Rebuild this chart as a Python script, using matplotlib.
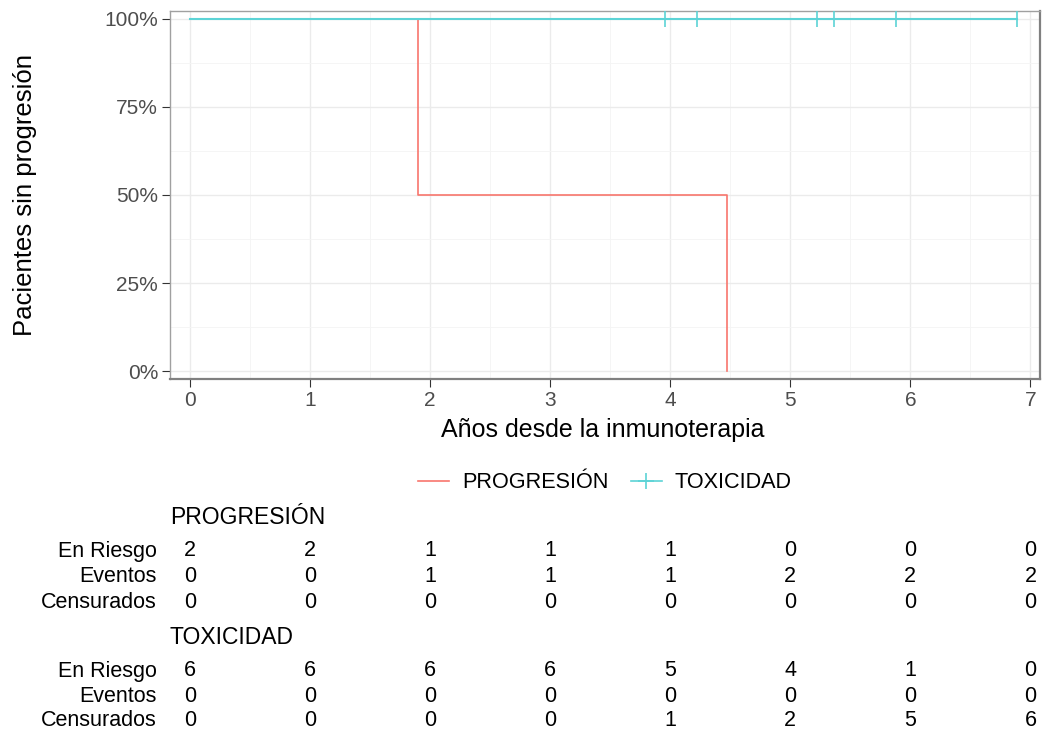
import matplotlib
matplotlib.use("Agg")
import matplotlib.pyplot as plt
import matplotlib.transforms as mtransforms
from matplotlib.lines import Line2D
import numpy as np

plt.rcParams['font.family'] = ['Liberation Sans', 'DejaVu Sans']

# ---- data ----
groups = ["PROGRESIÓN", "TOXICIDAD"]
colors = ["#F8766D", "#00BFC4"]
prog_times = [0, 1.9, 4.47]
prog_surv = [1.0, 0.5, 0.0]
prog_end = 4.47
tox_times = [0]
tox_surv = [1.0]
tox_end = 6.89
tox_censor = [3.96, 4.22, 5.22, 5.36, 5.88, 6.89]

table_times = [0, 1, 2, 3, 4, 5, 6, 7]
row_labels = ["En Riesgo", "Eventos", "Censurados"]
prog_risk = [2, 2, 1, 1, 1, 0, 0, 0]
prog_events = [0, 0, 1, 1, 1, 2, 2, 2]
prog_cens = [0, 0, 0, 0, 0, 0, 0, 0]
tox_risk = [6, 6, 6, 6, 5, 4, 1, 0]
tox_events = [0, 0, 0, 0, 0, 0, 0, 0]
tox_cens = [0, 0, 0, 0, 1, 2, 5, 6]

W, H = 1042, 740
fig = plt.figure(figsize=(W/100, H/100), dpi=100)
ax = fig.add_axes([170/W, 1-379/H, (1040-170)/W, (379-11)/H])

def step_xy(times, surv, end):
    xs, ys = [], []
    for i, (t, s) in enumerate(zip(times, surv)):
        if i > 0:
            xs.append(t); ys.append(surv[i-1])
        xs.append(t); ys.append(s)
    xs.append(end); ys.append(surv[-1])
    return xs, ys

tox_col = "#5CD3D6"
x1, y1 = step_xy(prog_times, prog_surv, prog_end)
ax.plot(x1, y1, color=colors[0], lw=1.2, zorder=3)
x2, y2 = step_xy(tox_times, tox_surv, tox_end)
ax.plot(x2, y2, color=tox_col, lw=1.5, zorder=4)
ax.plot(tox_censor, [1.0]*len(tox_censor), ls='none', marker='|', ms=12,
        mew=1.2, color=tox_col, zorder=4)

ax.set_xlim(-0.167, 7.08)
ax.set_ylim(-0.022, 1.022)
ax.set_xticks(range(0, 8))
ax.set_xticks(np.arange(0.5, 7.5, 1), minor=True)
ax.set_yticks([0, 0.25, 0.5, 0.75, 1.0])
ax.set_yticks([0.125, 0.375, 0.625, 0.875], minor=True)
ax.set_yticklabels(["0%", "25%", "50%", "75%", "100%"])
ax.grid(which='major', color='#EBEBEB', lw=1.0)
ax.grid(which='minor', color='#F4F4F4', lw=0.6)
ax.set_axisbelow(True)
ax.tick_params(which='major', length=5.5, color='#333333', labelcolor='#4D4D4D',
               labelsize=15, pad=3)
ax.tick_params(which='minor', length=0)
for side in ['left', 'top']:
    ax.spines[side].set_color('#A0A0A0')
    ax.spines[side].set_linewidth(1.0)
for side in ['bottom', 'right']:
    ax.spines[side].set_color('#808080')
    ax.spines[side].set_linewidth(1.6)

fig.text(603/W, 1-430/H, "Años desde la inmunoterapia", fontsize=18,
         ha='center', va='center', color='black')
fig.text(25/W, 1-195/H, "Pacientes sin progresión", fontsize=18.5,
         ha='center', va='center', rotation=90, color='black')

# legend
handles = [Line2D([], [], color=colors[0], lw=1.2),
           Line2D([], [], color=tox_col, lw=1.2, marker='+', ms=11, mew=1.2)]
fig.legend(handles, groups, loc='center', bbox_to_anchor=(605/W, 1-483/H),
           ncol=2, frameon=False, fontsize=15.6, handlelength=1.45,
           handletextpad=0.6, columnspacing=1.0)

# risk table
trans = mtransforms.blended_transform_factory(ax.transData, fig.transFigure)
def table_block(title, title_y, rows_y, data):
    fig.text(170/W, 1-title_y/H, title, fontsize=16.5, ha='left', va='center', color='black')
    for lab, yy, vals in zip(row_labels, rows_y, data):
        fig.text(157/W, 1-yy/H, lab, fontsize=15.5, ha='right', va='center', color='black')
        for t, v in zip(table_times, vals):
            fig.text(t, 1-yy/H, str(v), transform=trans, fontsize=15.5,
                     ha='center', va='center', color='black')

table_block(groups[0], 517, [551, 577, 602], [prog_risk, prog_events, prog_cens])
table_block(groups[1], 637, [671, 696, 721], [tox_risk, tox_events, tox_cens])

fig.savefig("out.png", dpi=100)
